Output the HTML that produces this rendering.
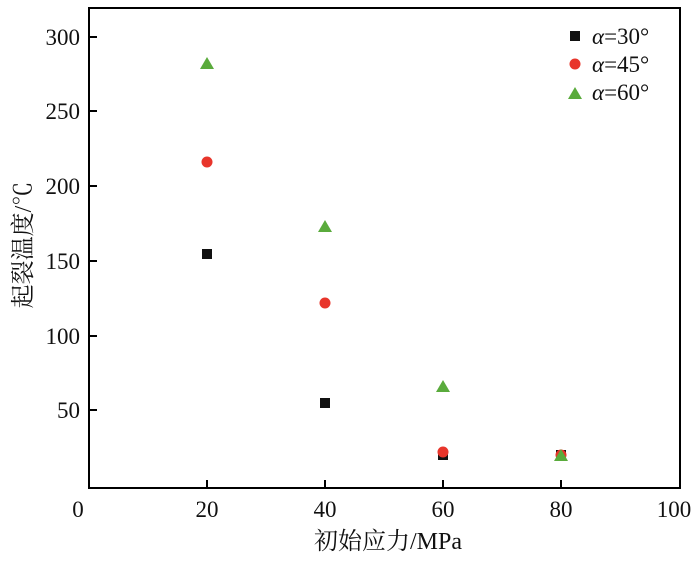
<!DOCTYPE html>
<html><head><meta charset="utf-8"><style>
body{margin:0;background:#fff}
text{font-family:"Liberation Serif","Noto Serif CJK SC",serif;fill:#111}
</style></head><body>
<svg width="700" height="556" xmlns="http://www.w3.org/2000/svg">
<rect width="700" height="556" fill="#fff"/>
<rect x="89" y="8" width="591" height="480" fill="none" stroke="#000" stroke-width="2"/>
<g stroke="#000" stroke-width="2">
<line x1="207" y1="488" x2="207" y2="480"/><line x1="325" y1="488" x2="325" y2="480"/>
<line x1="443" y1="488" x2="443" y2="480"/><line x1="561" y1="488" x2="561" y2="480"/>
<line x1="89" y1="37" x2="97" y2="37"/><line x1="89" y1="111" x2="97" y2="111"/>
<line x1="89" y1="186" x2="97" y2="186"/><line x1="89" y1="261" x2="97" y2="261"/>
<line x1="89" y1="336" x2="97" y2="336"/><line x1="89" y1="410" x2="97" y2="410"/>
</g>
<g font-size="23" text-anchor="middle">
<text x="78" y="517">0</text><text x="207" y="517">20</text><text x="325" y="517">40</text>
<text x="443" y="517">60</text><text x="561" y="517">80</text><text x="674" y="517">100</text>
</g>
<g font-size="23" text-anchor="end">
<text x="80" y="45">300</text><text x="80" y="119">250</text><text x="80" y="194">200</text>
<text x="80" y="269">150</text><text x="80" y="344">100</text><text x="80" y="418">50</text>
</g>
<text x="388" y="549" font-size="24" text-anchor="middle">初始应力/MPa</text>
<text transform="translate(31,245) rotate(-90)" font-size="24" text-anchor="middle">起裂温度/℃</text>
<g fill="#111">
<rect x="202" y="249" width="10" height="10"/><rect x="320" y="398" width="10" height="10"/>
<rect x="438" y="450" width="10" height="10"/><rect x="556" y="450" width="10" height="10"/>
</g>
<g fill="#e8352b">
<circle cx="207" cy="162" r="5.5"/><circle cx="325" cy="303" r="5.5"/>
<circle cx="443" cy="452" r="5.5"/><circle cx="561" cy="455" r="5.5"/>
</g>
<g fill="#5aab3c">
<polygon points="207,57 214,69 200,69"/><polygon points="325,220 332,232 318,232"/>
<polygon points="443,380 450,392 436,392"/><polygon points="561,449 568,461 554,461"/>
</g>
<rect x="570" y="31" width="10" height="10" fill="#111"/>
<circle cx="575" cy="64" r="5.5" fill="#e8352b"/>
<polygon points="575,87 582,99 568,99" fill="#5aab3c"/>
<g font-size="23">
<text x="592" y="44"><tspan font-style="italic">α</tspan>=30°</text>
<text x="592" y="72"><tspan font-style="italic">α</tspan>=45°</text>
<text x="592" y="100"><tspan font-style="italic">α</tspan>=60°</text>
</g>
</svg>
</body></html>
